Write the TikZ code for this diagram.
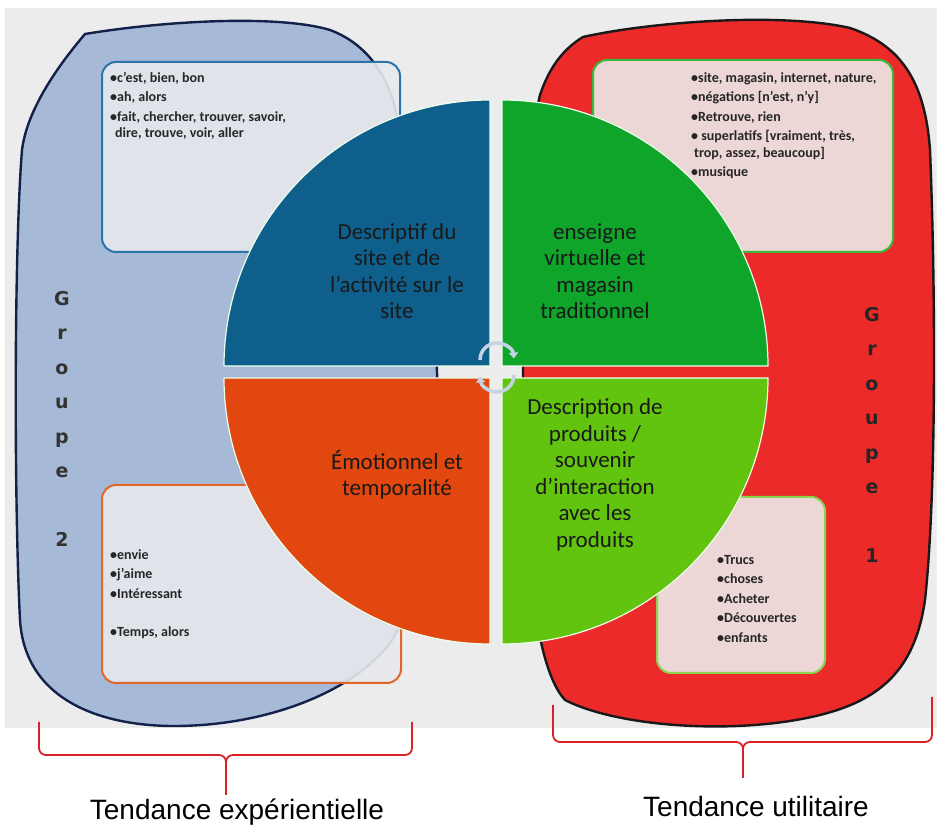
\documentclass[tikz,border=0pt]{standalone}
\usepackage{fontspec}
\setmainfont{Carlito}
\newfontfamily\groupfont{DejaVu Sans}
\newfontfamily\arialfont{Liberation Sans}
\usepackage{tikz}
\usetikzlibrary{arrows.meta,calc,positioning}
\definecolor{panelgray}{RGB}{236,236,236}
\definecolor{groupblue}{RGB}{166,185,214}
\definecolor{groupnavy}{RGB}{19,32,74}
\definecolor{groupred}{RGB}{236,42,42}
\definecolor{quartblue}{RGB}{15,95,140}
\definecolor{quartgreen}{RGB}{14,165,42}
\definecolor{quartorange}{RGB}{226,71,15}
\definecolor{quartlime}{RGB}{98,196,14}
\definecolor{boxblue}{RGB}{42,116,168}
\definecolor{boxgreen}{RGB}{58,184,58}
\definecolor{boxorange}{RGB}{224,102,44}
\definecolor{boxlime}{RGB}{140,212,80}
\definecolor{paperblue}{RGB}{231,233,237}
\definecolor{paperpink}{RGB}{237,222,222}
\definecolor{bracered}{RGB}{220,32,40}
\definecolor{turnarrow}{RGB}{197,211,227}

\begin{document}
\begin{tikzpicture}[
  x=1pt, y=1pt,
  blob/.style={line width=2.4pt, line join=round},
  wordbox/.style={line width=2pt, rounded corners=14pt, fill opacity=0.9},
  quarter/.style={draw=white!92!green, line width=1.2pt},
  quarttext/.style={align=center, font=\fontsize{23}{26.5}\selectfont, text=black!90},
  words/.style={anchor=north west, align=left, inner sep=0pt, font=\bfseries\fontsize{14}{16.5}\selectfont, text=black!85},
  groupword/.style={align=center, font=\groupfont\bfseries\fontsize{19}{34.5}\selectfont},
  trend/.style={font=\arialfont\fontsize{28}{30}\selectfont},
  brace/.style={draw=bracered, line width=1.8pt, rounded corners=7pt},
  turn/.style={draw=turnarrow, line width=3.5pt, -{Triangle[length=6pt,width=9pt]}}
]
\useasboundingbox (0,0) rectangle (937,832);
\fill[panelgray] (5,104) rectangle (937,824);

\draw[blob, draw=groupnavy, fill=groupblue] (85,798)
  .. controls (170,812) and (280,817) .. (330,802)
  .. controls (370,787) and (390,752) .. (397,715)
  .. controls (405,632) and (435,532) .. (437,460)
  .. controls (440,362) and (420,232) .. (390,189)
  .. controls (350,137) and (260,105) .. (170,106)
  .. controls (100,107) and (25,132) .. (20,212)
  .. controls (14,332) and (14,582) .. (22,682)
  .. controls (28,730) and (70,780) .. cycle;
\draw[blob, draw=black!90, fill=groupred] (583,795)
  .. controls (650,810) and (780,820) .. (850,804)
  .. controls (900,787) and (925,752) .. (930,682)
  .. controls (936,532) and (936,332) .. (925,232)
  .. controls (915,162) and (880,132) .. (820,117)
  .. controls (740,97) and (620,104) .. (565,132)
  .. controls (528,172) and (523,332) .. (523,460)
  .. controls (523,582) and (527,682) .. (540,737)
  .. controls (550,767) and (565,784) .. cycle;

\draw[wordbox, draw=boxblue, fill=paperblue] (102,770) rectangle (400,580);
\draw[wordbox, draw=boxgreen, fill=paperpink, fill opacity=0.96] (593,772) rectangle (893,580);
\draw[wordbox, draw=boxorange, fill=paperblue] (102,347) rectangle (401,149);
\draw[wordbox, draw=boxlime, fill=paperpink, fill opacity=0.96] (657,335) rectangle (825,159);

\node[words] (wordsTL) at (110,760) {•c’est, bien, bon\\[3pt]•ah, alors\\[3pt]•fait, chercher, trouver, savoir,\\\hspace*{5pt}dire, trouve, voir, aller};
\node[words] (wordsTR) at (691,760) {•site, magasin, internet, nature,\\[3pt]•négations [n’est, n’y]\\[3pt]•Retrouve, rien\\[3pt]• superlatifs [vraiment, très,\\\hspace*{3pt}trop, assez, beaucoup]\\[3pt]•musique};
\node[words] (wordsBL) at (110,283) {•envie\\[3pt]•j’aime\\[3pt]•Intéressant\\[22pt]•Temps, alors};
\node[words] (wordsBR) at (717,277) {•Trucs\\[3pt]•choses\\[3pt]•Acheter\\[3pt]•Découvertes\\[3pt]•enfants};

\fill[quartblue, quarter] (490,466) -- ++(-266,0) arc[start angle=180, end angle=90, radius=266] -- cycle;
\fill[quartgreen, quarter] (502,466) -- ++(0,266) arc[start angle=90, end angle=0, radius=266] -- cycle;
\fill[quartorange, quarter] (490,454) -- ++(0,-266) arc[start angle=270, end angle=180, radius=266] -- cycle;
\fill[quartlime, quarter] (502,454) -- ++(266,0) arc[start angle=0, end angle=-90, radius=266] -- cycle;

\node[quarttext] (descriptif) at (397,561) {Descriptif du\\site et de\\l’activité sur le\\site};
\node[quarttext] (enseigne) at (595,561) {enseigne\\virtuelle et\\magasin\\traditionnel};
\node[quarttext] (emotion) at (397,357) {Émotionnel et\\temporalité};
\node[quarttext] (produits) at (595,357) {Description de\\produits /\\souvenir\\d’interaction\\avec les\\produits};

\coordinate (turnup) at (497,472);
\coordinate (turndown) at (497,457);
\draw[turn] ($(turnup)+(-17,0)$) arc[start angle=180, end angle=5, radius=17];
\draw[turn] ($(turndown)+(17,0)$) arc[start angle=0, end angle=-175, radius=17];

\node[groupword, text=black!80] (groupe2) at (62,413) {G\\r\\o\\u\\p\\e\\ \\2};
\node[groupword, text=black!85] (groupe1) at (872,397) {G\\r\\o\\u\\p\\e\\ \\1};

\node[trend] (experience) at (237,20) {Tendance expérientielle};
\node[trend] (utilitaire) at (756,26) {Tendance utilitaire};

\coordinate (leftA) at (39,110);
\coordinate (leftB) at (412,110);
\coordinate (leftTip) at (226,37);
\coordinate (rightA) at (553,127);
\coordinate (rightB) at (932,135);
\coordinate (rightTip) at (743,54);
\draw[brace] (leftA) |- ($(leftTip)+(0,40)$) -- (leftTip);
\draw[brace] (leftB) |- ($(leftTip)+(0,40)$) -- (leftTip);
\draw[brace] (rightA) |- ($(rightTip)+(0,36)$) -- (rightTip);
\draw[brace] (rightB) |- ($(rightTip)+(0,36)$) -- (rightTip);
\end{tikzpicture}
\end{document}
